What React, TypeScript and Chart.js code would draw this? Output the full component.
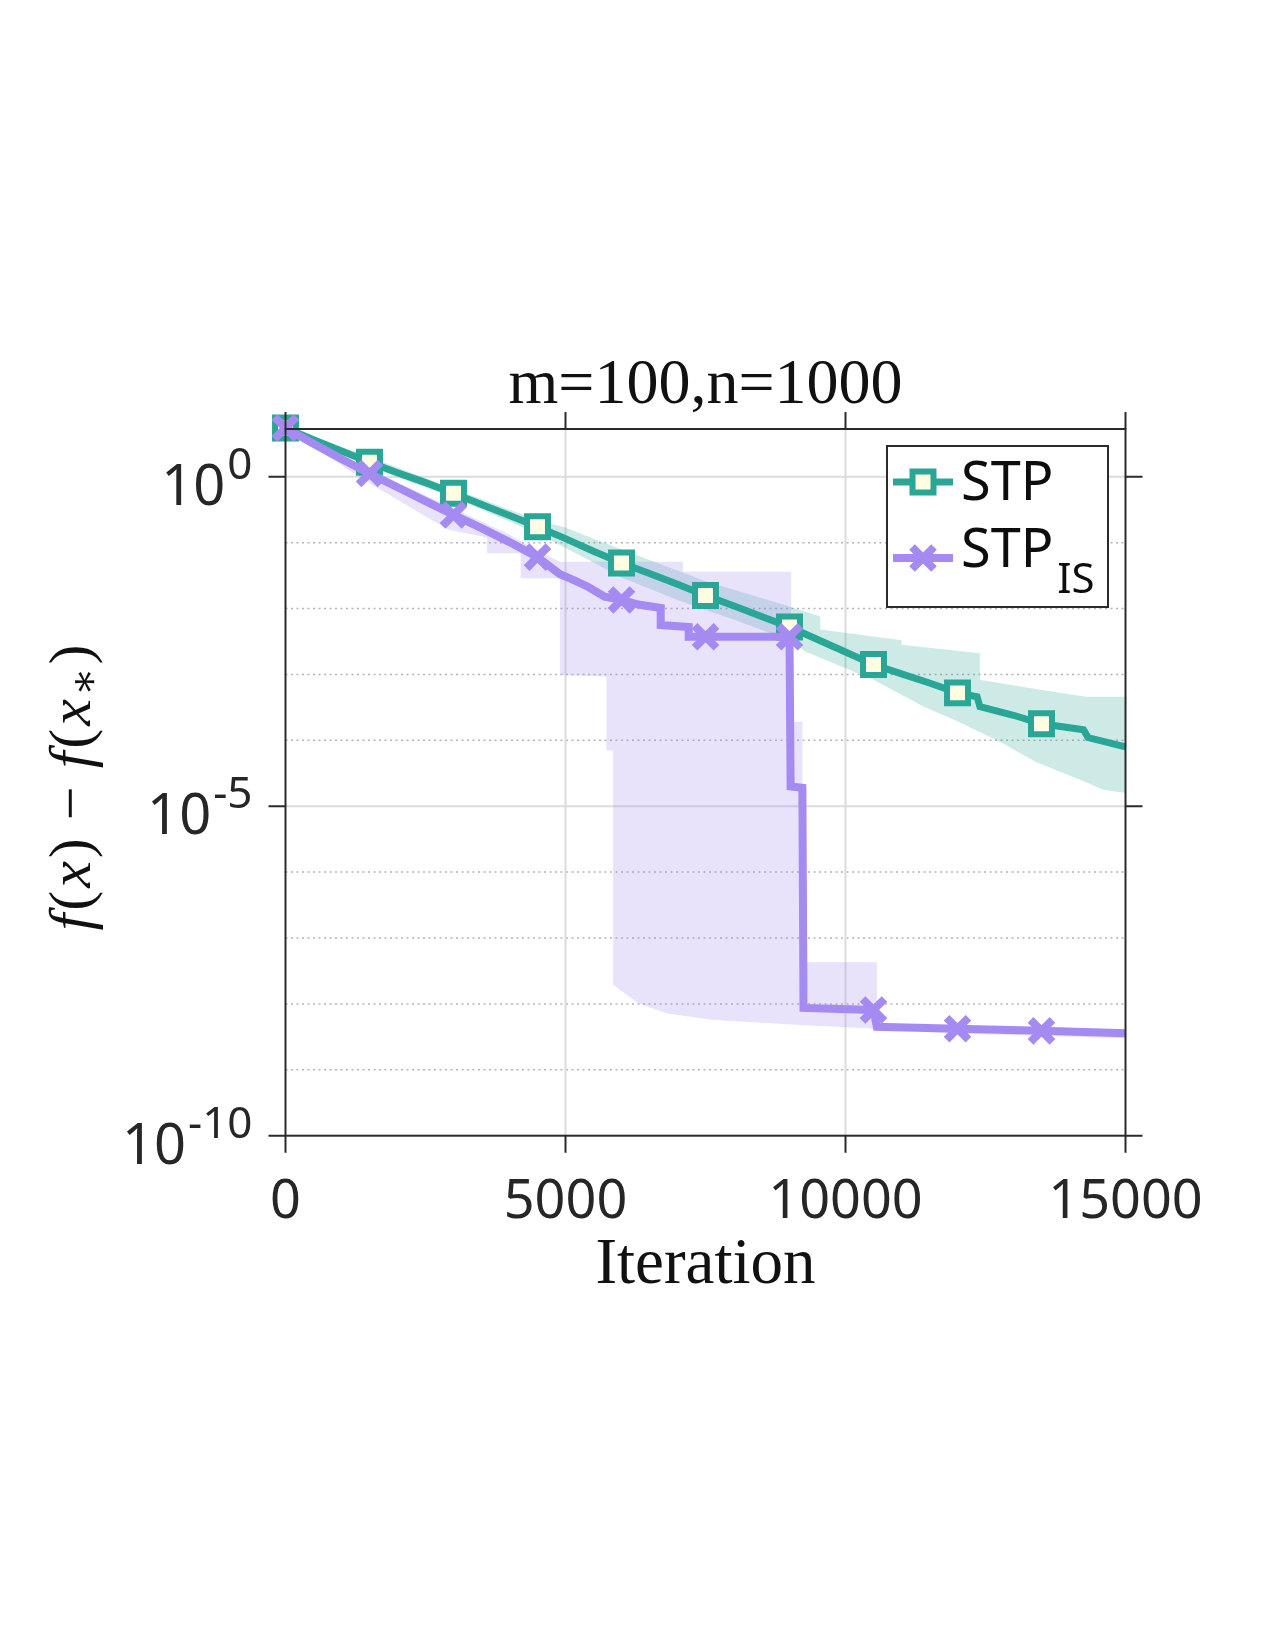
import { useEffect, useRef } from "react";
import { Chart, registerables } from "chart.js";

Chart.register(...registerables);

// ---- data -------------------------------------------------------------
// STP: mean optimality gap and its spread band
const stpIter = [0, 500, 1000, 1500, 2000, 2500, 3000, 3500, 4000, 4500, 5000, 5500, 6000, 6500, 7000, 7500, 8000, 8500, 9000, 9500, 10000, 10500, 11000, 11500, 12000, 12350, 12400, 13000, 13500, 14250, 14330, 15000];
const stpGap = [5.5, 3.63, 2.45, 1.66, 1.15, 0.813, 0.562, 0.38, 0.257, 0.174, 0.115, 0.0741, 0.049, 0.0339, 0.0234, 0.0158, 0.011, 7.59e-3, 5.25e-3, 3.39e-3, 2.19e-3, 1.41e-3, 1.02e-3, 7.41e-4, 5.25e-4, 4.57e-4, 3.24e-4, 2.4e-4, 1.78e-4, 1.45e-4, 1.1e-4, 7.94e-5];

const stpUpperIter = [0, 1500, 3000, 4500, 5000, 5500, 6000, 7500, 8500, 9000, 9550, 9550, 11000, 11000, 12400, 12400, 13450, 14300, 15000];
const stpUpperGap = [5.75, 2.0, 0.66, 0.219, 0.17, 0.115, 0.079, 0.026, 0.0145, 0.0107, 7.59e-3, 4.79e-3, 3.31e-3, 2.82e-3, 2.09e-3, 8.32e-4, 5.89e-4, 4.57e-4, 4.57e-4];

const stpLowerIter = [0, 1500, 3000, 4500, 5500, 6000, 7000, 8000, 9000, 9300, 10500, 11400, 11950, 12800, 13400, 14200, 14600, 15000];
const stpLowerGap = [5.25, 1.41, 0.479, 0.138, 0.05, 0.0295, 0.0135, 6.8e-3, 3.3e-3, 2.19e-3, 8.32e-4, 3.24e-4, 2.04e-4, 9.12e-5, 4.68e-5, 2.51e-5, 1.78e-5, 1.58e-5];

// STP_IS: mean optimality gap and its spread band
const isIter = [0, 500, 1000, 1500, 2000, 2500, 3000, 3500, 4000, 4500, 4900, 5100, 5400, 5700, 6000, 6300, 6700, 6700, 7200, 7200, 7500, 9000, 9020, 9230, 9250, 10500, 10560, 12000, 13500, 15000];
const isGap = [5.5, 3.16, 1.86, 1.12, 0.692, 0.427, 0.263, 0.166, 0.102, 0.0603, 0.0331, 0.0282, 0.0214, 0.0151, 0.0135, 0.0115, 0.0102, 5.62e-3, 5.25e-3, 3.72e-3, 3.72e-3, 3.72e-3, 2.0e-5, 1.9e-5, 8.7e-9, 8.1e-9, 4.5e-9, 4.2e-9, 3.9e-9, 3.6e-9];

const isUpperIter = [0, 1500, 3000, 4000, 4500, 4900, 7100, 7100, 9030, 9030, 9230, 9230, 10560, 10560, 12000, 15000];
const isUpperGap = [5.75, 1.26, 0.331, 0.132, 0.0759, 0.0513, 0.0513, 0.0363, 0.0363, 1.91e-4, 1.91e-4, 4.27e-8, 4.27e-8, 5.0e-9, 4.68e-9, 4.17e-9];

const isLowerIter = [0, 1500, 2900, 3600, 3600, 4200, 4200, 4900, 4900, 5730, 5730, 5850, 5850, 6300, 6800, 7600, 9200, 10400, 12000, 15000];
const isLowerGap = [5.25, 0.794, 0.158, 0.12, 0.0692, 0.0692, 0.0288, 0.0288, 9.77e-4, 9.33e-4, 7.08e-5, 7.08e-5, 1.95e-8, 1.02e-8, 7.24e-9, 5.75e-9, 4.79e-9, 4.27e-9, 3.55e-9, 3.02e-9];

// axes
const xTicks = [0, 5000, 10000, 15000];
const xTickLabels = ["0", "5000", "10000", "15000"];
const yDecades = [0, -1, -2, -3, -4, -5, -6, -7, -8, -9, -10];
const yLabelDecades = [0, -5, -10];
const yMin = 1e-10;
const yMax = 5.3;
const markerEvery = 1500;

const titleText = "m=100,n=1000";
const xAxisTitle = "Iteration";
const seriesNames = ["STP", "STP"];
const seriesSubs = ["", "IS"];

// ---- styling ------------------------------------------------------------
const TEAL = "rgb(42,166,151)";
const TEAL_BAND = "rgba(42,166,151,0.23)";
const PURPLE = "rgb(165,139,241)";
const PURPLE_BAND = "rgba(165,139,241,0.25)";
const MARKER_FILL = "#fffde2";
const AXIS = "#2b2b2b";
const TEXT = "#262626";
const SANS = '"Noto Sans", "Open Sans", sans-serif';
const SERIF = '"Liberation Serif", "DejaVu Serif", serif';

type Pt = { x: number; y: number };
const pts = (xs: number[], ys: number[]): Pt[] => xs.map((x, i) => ({ x, y: ys[i] }));
const bandShape = (xu: number[], yu: number[], xl: number[], yl: number[]): Pt[] => [
  ...pts(xu, yu),
  ...pts(xl, yl).reverse(),
];

const isMarker = (c: any) => {
  const r = c.raw as Pt | undefined;
  return !!r && r.x % markerEvery === 0 && r.x < 15000;
};

function drawSquare(ctx: CanvasRenderingContext2D, x: number, y: number) {
  ctx.save();
  ctx.fillStyle = MARKER_FILL;
  ctx.strokeStyle = TEAL;
  ctx.lineWidth = 6;
  ctx.beginPath();
  ctx.rect(x - 10.5, y - 10.5, 21, 21);
  ctx.fill();
  ctx.stroke();
  ctx.restore();
}

function drawCross(ctx: CanvasRenderingContext2D, x: number, y: number) {
  ctx.save();
  ctx.strokeStyle = PURPLE;
  ctx.lineWidth = 8;
  ctx.beginPath();
  ctx.moveTo(x - 11, y - 11);
  ctx.lineTo(x + 11, y + 11);
  ctx.moveTo(x + 11, y - 11);
  ctx.lineTo(x - 11, y + 11);
  ctx.stroke();
  ctx.restore();
}

const gridPlugin = {
  id: "gridLayer",
  beforeDatasetsDraw(chart: any) {
    const { ctx, chartArea: a, scales } = chart;
    const x = scales.x;
    const y = scales.y;
    ctx.save();
    // minor decades: dotted
    ctx.strokeStyle = "#b4b4b4";
    ctx.lineWidth = 1.5;
    ctx.setLineDash([2, 3.5]);
    for (const e of yDecades) {
      if (e % 5 === 0) continue;
      const py = y.getPixelForValue(Math.pow(10, e));
      ctx.beginPath();
      ctx.moveTo(a.left, py);
      ctx.lineTo(a.right, py);
      ctx.stroke();
    }
    // major lines: solid light grey
    ctx.setLineDash([]);
    ctx.strokeStyle = "#dcdcdc";
    ctx.lineWidth = 2;
    for (const e of yLabelDecades) {
      const py = y.getPixelForValue(Math.pow(10, e));
      if (py >= a.bottom - 1) continue;
      ctx.beginPath();
      ctx.moveTo(a.left, py);
      ctx.lineTo(a.right, py);
      ctx.stroke();
    }
    for (const v of xTicks) {
      const px = x.getPixelForValue(v);
      if (px <= a.left + 1 || px >= a.right - 1) continue;
      ctx.beginPath();
      ctx.moveTo(px, a.top);
      ctx.lineTo(px, a.bottom);
      ctx.stroke();
    }
    ctx.restore();
  },
};

const framePlugin = {
  id: "frameLayer",
  afterDraw(chart: any) {
    const { ctx, chartArea: a, scales } = chart;
    const x = scales.x;
    const y = scales.y;
    const tick = 17;
    ctx.save();
    ctx.strokeStyle = AXIS;
    ctx.lineWidth = 2;
    ctx.strokeRect(a.left, a.top, a.right - a.left, a.bottom - a.top);
    ctx.beginPath();
    for (const v of xTicks) {
      const px = x.getPixelForValue(v);
      ctx.moveTo(px, a.bottom);
      ctx.lineTo(px, a.bottom + tick);
      ctx.moveTo(px, a.top);
      ctx.lineTo(px, a.top - tick);
    }
    for (const e of yLabelDecades) {
      const py = y.getPixelForValue(Math.pow(10, e));
      ctx.moveTo(a.left, py);
      ctx.lineTo(a.left - tick, py);
      ctx.moveTo(a.right, py);
      ctx.lineTo(a.right + tick, py);
    }
    ctx.stroke();

    // x tick labels
    ctx.fillStyle = TEXT;
    ctx.font = `54px ${SANS}`;
    ctx.textAlign = "center";
    ctx.textBaseline = "alphabetic";
    xTicks.forEach((v, i) => {
      ctx.fillText(xTickLabels[i], x.getPixelForValue(v), a.bottom + 82);
    });

    // y tick labels: 10 with a raised exponent
    ctx.textAlign = "left";
    for (const e of yLabelDecades) {
      const py = y.getPixelForValue(Math.pow(10, e));
      const sup = e === 0 ? "0" : `-${-e}`;
      ctx.font = `44px ${SANS}`;
      const supW = ctx.measureText(sup).width;
      ctx.font = `56px ${SANS}`;
      const baseW = ctx.measureText("10").width;
      const right = a.left - 33;
      ctx.fillText("10", right - supW - baseW - 2, py + 28);
      ctx.font = `44px ${SANS}`;
      ctx.fillText(sup, right - supW, py + 2);
    }

    // title and x-axis title
    ctx.fillStyle = "#111";
    ctx.textAlign = "center";
    ctx.font = `64px ${SERIF}`;
    ctx.fillText(titleText, (a.left + a.right) / 2, 403);
    ctx.font = `65px ${SERIF}`;
    ctx.fillText(xAxisTitle, (a.left + a.right) / 2, 1283);

    // y-axis title: f(x) − f(x*)
    const pieces: { t: string; f: string; dy: number }[] = [
      { t: "f", f: `italic 60px ${SERIF}`, dy: 0 },
      { t: "(", f: `60px ${SERIF}`, dy: 0 },
      { t: "x", f: `italic 60px ${SERIF}`, dy: 0 },
      { t: ")", f: `60px ${SERIF}`, dy: 0 },
      { t: " \u2212 ", f: `60px ${SERIF}`, dy: 0 },
      { t: "f", f: `italic 60px ${SERIF}`, dy: 0 },
      { t: "(", f: `60px ${SERIF}`, dy: 0 },
      { t: "x", f: `italic 60px ${SERIF}`, dy: 0 },
      { t: "\u2217", f: `42px ${SERIF}`, dy: 8 },
      { t: ")", f: `60px ${SERIF}`, dy: 0 },
    ];
    let total = 0;
    const widths = pieces.map((p) => {
      ctx.font = p.f;
      const w = ctx.measureText(p.t).width + 3;
      total += w;
      return w;
    });
    ctx.save();
    ctx.translate(90, 786);
    ctx.rotate(-Math.PI / 2);
    ctx.textAlign = "left";
    let cx = -total / 2;
    pieces.forEach((p, i) => {
      ctx.font = p.f;
      ctx.fillText(p.t, cx, p.dy);
      cx += widths[i];
    });
    ctx.restore();

    // legend
    const lx = 887, ly = 446, lw = 221, lh = 161;
    ctx.fillStyle = "#ffffff";
    ctx.fillRect(lx, ly, lw, lh);
    ctx.strokeStyle = AXIS;
    ctx.lineWidth = 2;
    ctx.strokeRect(lx, ly, lw, lh);
    const rows = [482, 558];
    const colors = [TEAL, PURPLE];
    rows.forEach((ry, i) => {
      ctx.strokeStyle = colors[i];
      ctx.lineWidth = i === 0 ? 7 : 8;
      ctx.beginPath();
      ctx.moveTo(893, ry);
      ctx.lineTo(953, ry);
      ctx.stroke();
      if (i === 0) drawSquare(ctx, 923, ry);
      else drawCross(ctx, 923, ry);
    });
    ctx.fillStyle = "#0d0d0d";
    ctx.textAlign = "left";
    ctx.font = `54px ${SANS}`;
    ctx.fillText(seriesNames[0], 961, 500);
    ctx.fillText(seriesNames[1], 961, 567);
    const w2 = ctx.measureText(seriesNames[1]).width;
    ctx.font = `42px ${SANS}`;
    ctx.fillText(seriesSubs[1], 961 + w2 + 4, 593);
    ctx.restore();
  },
};

export default function App() {
  const ref = useRef<HTMLCanvasElement | null>(null);

  useEffect(() => {
    const canvas = ref.current;
    if (!canvas) return;
    const chart = new Chart(canvas, {
      type: "line",
      data: {
        datasets: [
          {
            label: "STP spread",
            data: bandShape(stpUpperIter, stpUpperGap, stpLowerIter, stpLowerGap),
            fill: "shape",
            backgroundColor: TEAL_BAND,
            borderColor: "transparent",
            borderWidth: 0,
            pointRadius: 0,
            order: 6,
          },
          {
            label: "STP_IS spread",
            data: bandShape(isUpperIter, isUpperGap, isLowerIter, isLowerGap),
            fill: "shape",
            backgroundColor: PURPLE_BAND,
            borderColor: "transparent",
            borderWidth: 0,
            pointRadius: 0,
            order: 5,
          },
          {
            label: "STP",
            data: pts(stpIter, stpGap),
            fill: false,
            borderColor: TEAL,
            borderWidth: 7,
            pointStyle: "rect",
            pointRadius: (c: any) => (isMarker(c) ? 14.8 : 0),
            pointBorderWidth: 6,
            pointBorderColor: TEAL,
            pointBackgroundColor: MARKER_FILL,
            clip: false,
            order: 4,
          },
          {
            label: "STP_IS",
            data: pts(isIter, isGap),
            fill: false,
            borderColor: PURPLE,
            borderWidth: 8,
            pointStyle: "crossRot",
            pointRadius: (c: any) => (isMarker(c) ? 15.5 : 0),
            pointBorderWidth: 8,
            pointBorderColor: PURPLE,
            pointBackgroundColor: PURPLE,
            clip: false,
            order: 3,
          },
        ] as any,
      },
      options: {
        responsive: false,
        animation: false,
        devicePixelRatio: 1,
        events: [],
        layout: { padding: { left: 285.5, right: 149.5, top: 429, bottom: 514.3 } },
        elements: {
          line: { tension: 0, borderJoinStyle: "miter", borderCapStyle: "butt" },
        },
        scales: {
          x: { type: "linear", min: 0, max: 15000, display: false },
          y: { type: "logarithmic", min: yMin, max: yMax, display: false },
        },
        plugins: {
          legend: { display: false },
          tooltip: { enabled: false },
          title: { display: false },
        },
      },
      plugins: [gridPlugin, framePlugin],
    });
    return () => chart.destroy();
  }, []);

  return (
    <div style={{ position: "absolute", left: 0, top: 0, width: 1275, height: 1650, background: "#fff" }}>
      <canvas ref={ref} width={1275} height={1650} style={{ width: 1275, height: 1650, display: "block" }} />
    </div>
  );
}
